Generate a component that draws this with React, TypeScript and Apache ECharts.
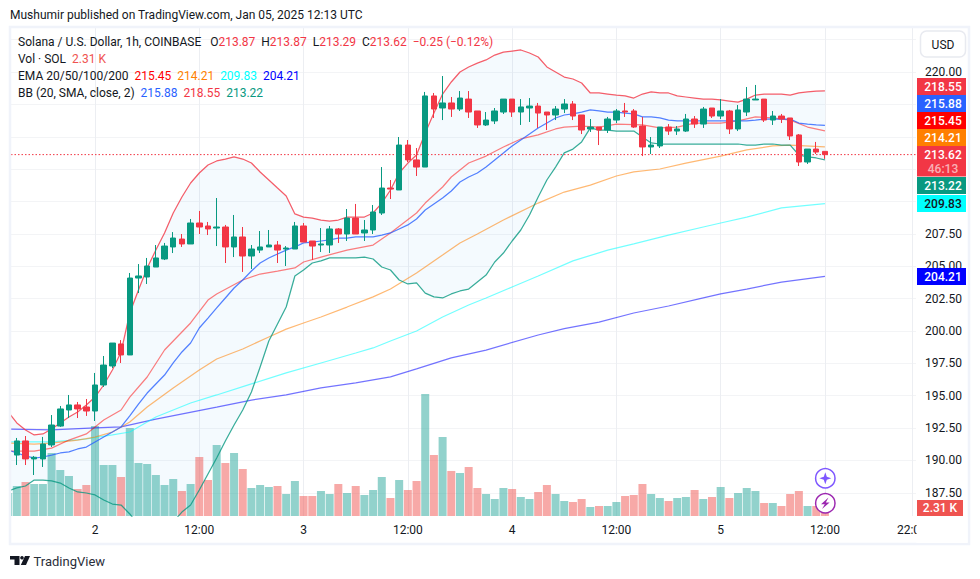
import React, { useEffect, useRef } from "react";
import * as echarts from "echarts";

const FONT = "Roboto, 'Noto Sans', sans-serif";
const GREEN = "#089981";
const RED = "#F23645";
const INK = "#131722";

const firstHour = 14;
// [open, close, low, high], one row per hour from Jan 1 14:00
const ohlc = [
  [189.8, 190.6, 189.7, 190.7],
  [190.42, 191.51, 189.65, 191.74], [191.51, 190.12, 189.65, 191.89], [190.12, 190.25, 188.88, 190.35], [190.12, 191.27, 189.5, 191.82],
  [191.2, 192.74, 191.04, 193.51], [192.66, 193.98, 192.59, 194.21], [193.9, 194.29, 193.28, 195.06], [194.29, 193.98, 193.28, 194.52],
  [194.13, 193.82, 193.44, 194.75], [193.82, 195.83, 193.05, 196.76], [195.83, 197.37, 195.68, 198.07], [197.3, 199.07, 197.14, 199.07],
  [199.0, 198.15, 197.53, 199.3], [198.15, 204.09, 198.15, 204.48], [204.09, 204.25, 202.93, 205.17], [204.17, 205.02, 203.63, 205.64],
  [204.94, 205.64, 204.94, 206.64], [205.56, 206.56, 205.48, 206.8], [206.49, 207.18, 206.02, 207.64], [207.1, 206.72, 206.49, 207.49],
  [206.72, 208.34, 206.72, 208.65], [208.34, 208.03, 207.49, 209.27], [208.11, 207.88, 207.41, 208.42], [207.95, 208.03, 206.56, 210.27],
  [208.03, 206.49, 205.25, 208.19], [206.49, 207.26, 205.71, 208.96], [207.26, 205.79, 204.56, 208.03], [205.79, 206.33, 204.79, 206.64],
  [206.25, 206.49, 206.02, 207.72], [206.49, 206.64, 206.49, 207.8], [206.64, 206.25, 205.25, 206.95], [206.33, 206.41, 205.02, 206.56],
  [206.33, 208.11, 206.33, 208.42], [208.11, 206.87, 206.87, 208.34], [206.95, 206.56, 205.48, 206.95], [206.64, 206.72, 206.1, 207.95],
  [206.64, 207.88, 206.02, 208.11], [207.88, 207.49, 206.8, 207.95], [207.49, 208.72, 206.95, 209.42], [208.72, 207.49, 207.49, 209.81],
  [207.57, 207.8, 206.95, 208.57], [207.8, 209.19, 207.49, 209.73], [209.11, 211.04, 208.96, 212.66], [211.04, 210.96, 210.19, 211.66],
  [210.89, 214.36, 210.89, 214.98], [214.36, 213.21, 213.05, 214.75], [213.21, 212.66, 211.97, 214.13], [212.66, 218.15, 212.66, 218.46],
  [218.15, 217.14, 216.45, 218.38], [217.22, 217.61, 216.29, 219.69], [217.61, 217.14, 216.53, 218.07], [217.14, 217.99, 216.99, 218.53],
  [217.91, 216.91, 216.45, 218.53], [216.99, 215.91, 215.68, 216.99], [215.91, 216.29, 215.83, 216.91], [216.22, 216.99, 215.98, 217.22],
  [216.91, 217.91, 216.76, 217.91], [217.91, 216.91, 216.53, 217.91], [216.91, 217.3, 215.91, 217.91], [217.22, 217.37, 216.14, 217.99],
  [217.37, 216.83, 215.68, 217.61], [216.91, 216.68, 215.52, 216.91], [216.68, 217.14, 216.29, 217.37], [217.14, 217.53, 216.83, 217.91],
  [217.53, 216.6, 216.29, 217.76], [216.68, 215.52, 215.21, 216.68], [215.6, 215.75, 215.37, 216.37], [215.75, 215.52, 214.36, 215.75],
  [215.52, 216.37, 215.29, 216.53], [216.29, 216.99, 216.06, 217.14], [216.99, 216.91, 216.53, 217.61], [216.99, 215.75, 215.68, 217.14],
  [215.83, 214.21, 213.51, 216.53], [214.21, 214.36, 213.67, 214.98], [214.29, 215.75, 214.13, 215.75], [215.75, 215.44, 215.14, 215.98],
  [215.44, 215.6, 215.14, 215.83], [215.44, 216.37, 215.37, 216.76], [216.37, 215.98, 215.68, 216.6], [215.98, 217.14, 215.68, 217.3],
  [217.22, 216.6, 216.45, 217.22], [216.6, 216.99, 216.37, 217.91], [216.99, 215.6, 215.21, 217.07], [215.6, 217.07, 215.44, 217.45],
  [216.91, 217.91, 216.6, 218.84], [217.84, 217.91, 217.84, 219.0], [217.91, 216.29, 216.14, 217.91], [216.29, 216.6, 215.91, 216.99],
  [216.6, 216.37, 216.06, 216.76], [216.45, 215.06, 214.75, 216.45], [215.14, 213.05, 212.74, 215.21], [213.05, 214.05, 212.9, 214.05],
  [214.05, 213.82, 213.67, 214.6], [213.87, 213.62, 213.29, 213.87],
];

const volumeK = [
  5.3, 6.93, 7.85, 7.39, 7.39, 14.55, 10.63, 9.24, 6.24, 7.16, 20.79, 11.78, 11.78, 9.01, 20.33, 12.24, 12.01, 9.47, 7.16, 8.55, 5.78, 7.39, 13.63, 8.32, 16.4,
  12.24, 14.55, 10.86, 6.47, 7.16, 6.7, 6.93, 5.08, 8.09, 4.62, 4.62, 5.78, 5.08, 7.39, 5.31, 6.93, 4.85, 6.01, 9.01, 4.16, 8.32, 6.01, 8.09, 28.18, 14.09, 18.25,
  10.4, 9.93, 11.32, 6.47, 5.08, 3.93, 6.47, 6.24, 4.39, 3.93, 5.54, 7.16, 5.08, 3.47, 3.23, 3.93, 2.08, 2.31, 2.31, 3.23, 4.62, 4.85, 7.39, 5.08, 4.16, 3.47,
  4.16, 4.39, 6.01, 3.93, 4.39, 6.7, 4.16, 5.31, 6.47, 5.78, 3.0, 3.0, 2.31, 5.08, 5.78, 2.31, 2.31, 2.31,
];

const bbUpper = [
  193.75, 192.9, 192.36, 191.97, 192.05, 192.43, 192.9, 193.36, 193.75, 194.29,
  194.9, 195.83, 196.99, 198.38, 201.39, 203.17, 204.87, 206.25, 207.57, 209.11,
  210.35, 211.43, 212.2, 212.82, 213.13, 213.28, 213.44, 213.28, 212.97, 212.28,
  211.66, 211.04, 210.43, 209.04, 208.8, 208.72, 208.57, 208.49, 208.57, 208.8,
  208.8, 208.8, 209.11, 209.88, 210.89, 212.2, 212.97, 213.59, 215.29, 216.83,
  218.3, 219.23, 220, 220.39, 220.69, 220.93, 221.31, 221.54, 221.62, 221.7,
  221.47, 221.16, 220.39, 220, 219.61, 219.46, 219.15, 218.38, 218.38, 218.3,
  218.22, 218.15, 217.99, 218.3, 218.46, 218.38, 218.38, 218.15, 218.07, 217.99,
  217.91, 217.91, 217.84, 217.76, 217.68, 217.91, 218.22, 218.3, 218.3, 218.3,
  218.22, 218.38, 218.46, 218.53, 218.55,
];
const bbBasis = [
  190.81, 190.58, 190.35, 190.19, 190.27, 190.42, 190.58, 190.66, 190.89, 191.04,
  191.43, 191.82, 192.2, 192.59, 193.44, 194.36, 195.21, 195.91, 196.6, 197.53,
  198.38, 199.07, 200.23, 201, 201.78, 202.55, 203.32, 203.94, 204.63, 205.25,
  205.64, 205.95, 206.25, 206.49, 206.8, 206.87, 206.95, 207.03, 207.18, 207.18,
  207.26, 207.26, 207.26, 207.41, 207.57, 207.88, 208.19, 208.65, 209.34, 209.81,
  210.27, 210.81, 211.51, 211.89, 212.2, 212.66, 213.21, 213.75, 214.29, 214.75,
  215.21, 215.68, 216.06, 216.45, 216.68, 216.76, 216.91, 217.07, 216.99, 216.91,
  216.91, 216.83, 216.76, 216.53, 216.53, 216.45, 216.29, 216.22, 216.22, 216.22,
  216.22, 216.22, 216.22, 216.22, 216.22, 216.22, 216.29, 216.37, 216.37, 216.37,
  216.37, 216.06, 215.98, 215.91, 215.88,
];
const bbLower = [
  187.64, 187.88, 188.03, 188.49, 188.49, 188.42, 188.26, 187.88, 187.57, 187.49,
  187.34, 186.95, 186.64, 186.56, 185.87, 185.02, 184.48, 184.32, 184.63, 185.25,
  186.02, 186.56, 187.72, 188.96, 190.19, 191.51, 192.74, 193.9, 195.29, 197.22,
  199.23, 200.54, 201.85, 204.25, 204.71, 205.25, 205.41, 205.64, 205.64, 205.64,
  205.64, 205.71, 205.56, 204.94, 204.71, 203.94, 203.63, 203.71, 202.93, 202.63,
  202.55, 202.86, 203.09, 203.24, 203.78, 204.32, 205.33, 206.02, 206.95, 207.8,
  208.96, 210.35, 211.66, 212.66, 213.75, 214.05, 214.6, 215.68, 215.52, 215.52,
  215.44, 215.44, 215.44, 214.98, 214.52, 214.44, 214.44, 214.44, 214.44, 214.44,
  214.44, 214.44, 214.44, 214.44, 214.44, 214.36, 214.36, 214.44, 214.44, 214.36,
  214.36, 213.59, 213.44, 213.36, 213.22,
];

// EMA readings as [hour, price]
const ema20 = [[14, 190.73], [17, 190.73], [19, 190.96], [21, 191.58], [23, 192.05], [25, 193.13], [27, 193.9], [28, 194.9], [30, 196.45], [32, 198.53], [35, 200.62], [37, 202.39], [38, 202.86], [41, 203.94], [43, 204.4], [45, 204.63], [47, 204.87], [48, 205.33], [50, 205.71], [53, 206.25], [56, 206.64], [58, 207.57], [61, 209.11], [62, 209.88], [64, 211.12], [65, 211.89], [67, 212.97], [69, 213.51], [71, 214.21], [73, 214.83], [75, 215.14], [77, 215.6], [78, 215.75], [80, 215.83], [82, 215.75], [84, 215.98], [87, 215.91], [89, 215.68], [91, 215.75], [93, 216.06], [96, 216.06], [98, 216.22], [100, 216.53], [102, 216.45], [104, 216.29], [106, 215.75], [108, 215.45]];
const ema50 = [[14, 191.35], [17, 191.27], [19, 191.35], [22, 191.58], [24, 191.81], [26, 192.2], [28, 192.97], [30, 194.13], [33, 195.6], [36, 196.99], [38, 197.84], [41, 198.61], [44, 199.54], [46, 200.15], [48, 200.62], [50, 201.08], [53, 201.85], [56, 202.63], [58, 203.24], [61, 204.48], [64, 205.87], [66, 206.8], [68, 207.49], [71, 208.57], [75, 209.88], [78, 210.73], [81, 211.27], [84, 211.97], [86, 212.28], [89, 212.51], [92, 212.97], [96, 213.51], [99, 213.98], [102, 214.29], [104, 214.36], [108, 214.21]];
const ema100 = [[14, 191.43], [19, 191.43], [23, 191.66], [26, 191.97], [28, 192.2], [31, 193.36], [35, 194.44], [38, 195.06], [42, 195.91], [46, 196.76], [50, 197.53], [54, 198.3], [56, 198.69], [58, 199.23], [61, 200.0], [64, 201.08], [67, 202.01], [69, 202.55], [72, 203.4], [75, 204.25], [79, 205.41], [83, 206.25], [86, 206.72], [90, 207.41], [94, 208.03], [96, 208.34], [99, 208.8], [103, 209.5], [108, 209.83]];
const ema200 = [[14, 192.43], [19, 192.36], [24, 192.51], [27, 192.59], [31, 193.2], [38, 194.13], [42, 194.67], [46, 195.06], [50, 195.6], [54, 195.99], [58, 196.45], [61, 197.07], [65, 197.92], [69, 198.53], [75, 199.69], [78, 200.18], [82, 200.69], [86, 201.39], [90, 201.93], [94, 202.55], [96, 202.86], [99, 203.24], [103, 203.78], [108, 204.21]];

const lastClose = 213.62;
const gridPrices = [187.5, 190, 192.5, 195, 197.5, 200, 202.5, 205, 207.5, 210, 212.5, 215, 217.5, 220, 222.5];
const labelPrices = [187.5, 190, 192.5, 195, 197.5, 200, 202.5, 205, 207.5, 220];
const timeHours = [24, 36, 48, 60, 72, 84, 96, 108, 118];
const timeLabels = ["2", "12:00", "3", "12:00", "4", "12:00", "5", "12:00", "22:00"];

const priceTags = [
  { text: "218.55", fill: RED, ink: "#fff", top: 78 },
  { text: "215.88", fill: "#2962FF", ink: "#fff", top: 95 },
  { text: "215.45", fill: "#FF0000", ink: "#fff", top: 112 },
  { text: "214.21", fill: "#FF7F00", ink: "#fff", top: 129 },
  { text: "213.22", fill: GREEN, ink: "#fff", top: 177 },
  { text: "209.83", fill: "#00FFFF", ink: INK, top: 195 },
  { text: "204.21", fill: "#0000FF", ink: "#fff", top: 268 },
];

const hourOf = (i: number) => firstHour + i;
const perHour = (values: number[]) => values.map((v, i) => [hourOf(i), v]);

function lineSeries(name: string, data: number[][], color: string, width = 1.25) {
  return {
    name, type: "line", data, showSymbol: false, symbol: "none", silent: true, z: 3,
    lineStyle: { color, width },
  };
}

function legendText(y: number, text: string, rich: any) {
  return {
    type: "text", z: 100, x: 18, y,
    style: { text, rich, font: `12px ${FONT}`, fill: INK, verticalAlign: "middle" },
  };
}

const tagRect = (top: number, h: number, fill: string, w = 49) => ({
  type: "rect", z: 100, shape: { x: 917, y: top, width: w, height: h }, style: { fill },
});
const tagText = (cy: number, text: string, fill: string, weight = "500", cx = 943) => ({
  type: "text", z: 101, x: cx, y: cy,
  style: { text, fill, font: `${weight} 12px ${FONT}`, align: "center", verticalAlign: "middle" },
});

export default function App() {
  const ref = useRef<HTMLDivElement>(null);
  useEffect(() => {
    document.body.style.margin = "0";
    const chart = echarts.init(ref.current!, null, { renderer: "svg" });

    const n = (c: string) => ({ fill: c, font: `12px ${FONT}` });
    const graphics: any[] = [
      { type: "rect", z: 100, shape: { x: 0, y: 28, width: 9, height: 490 }, style: { fill: "#fff" } },
      { type: "rect", z: 100, shape: { x: 10, y: 27, width: 959, height: 517 }, style: { fill: "none", stroke: "#f0f3fa", lineWidth: 2.5 } },
      { type: "rect", z: 100, shape: { x: 916.5, y: 517, width: 51, height: 26 }, style: { fill: "#fff" } },
      {
        type: "text", z: 100, x: 10, y: 15,
        style: { text: "Mushumir published on TradingView.com, Jan 05, 2025 12:13 UTC", font: `12px ${FONT}`, fill: INK, verticalAlign: "middle" },
      },
      legendText(41.5, "{a|Solana / U.S. Dollar, 1h, COINBASE}   {a|O}{r|213.87}  {a|H}{r|213.87}  {a|L}{r|213.29}  {a|C}{r|213.62}  {r|−0.25 (−0.12%)}", { a: n(INK), r: n(RED) }),
      legendText(59, "{a|Vol · SOL}  {v|2.31 K}", { a: n(INK), v: n("#EF5350") }),
      legendText(76, "{a|EMA 20/50/100/200}  {e|215.45}  {f|214.21}  {g|209.83}  {h|204.21}", { a: n(INK), e: n("#FF0000"), f: n("#FF7F00"), g: n("#00FFFF"), h: n("#0000FF") }),
      legendText(93, "{a|BB (20, SMA, close, 2)}  {b|215.88}  {c|218.55}  {d|213.22}", { a: n(INK), b: n("#2962FF"), c: n(RED), d: n(GREEN) }),
      // USD button
      { type: "rect", z: 100, shape: { x: 920.5, y: 31, width: 45, height: 26, r: 6 }, style: { fill: "#fff", stroke: "#e8eaf0", lineWidth: 1.5 } },
      { type: "text", z: 101, x: 943, y: 44.5, style: { text: "USD", fill: INK, font: `12px ${FONT}`, align: "center", verticalAlign: "middle" } },
      // price tags
      ...priceTags.flatMap((t) => [tagRect(t.top, 17, t.fill), tagText(t.top + 8.5, t.text, t.ink)]),
      tagRect(146, 30.5, RED),
      tagText(154.5, "213.62", "#fff"),
      tagText(169, "46:13", "rgba(255,255,255,0.62)"),
      tagRect(500, 16, "#EF5350", 46),
      tagText(508, "2.31 K", "#fff", "500", 940),
      // event icons
      { type: "circle", z: 100, shape: { cx: 825.3, cy: 478.3, r: 9.7 }, style: { fill: "#fff", stroke: "#7E57FF", lineWidth: 1.5 } },
      { type: "polygon", z: 101, shape: { points: [[825.3, 472.3], [826.8, 476.8], [831.3, 478.3], [826.8, 479.8], [825.3, 484.3], [823.8, 479.8], [819.3, 478.3], [823.8, 476.8]] }, style: { fill: "#7E57FF" } },
      { type: "circle", z: 100, shape: { cx: 825.3, cy: 503.3, r: 9.7 }, style: { fill: "#fff", stroke: "#9C27B0", lineWidth: 1.5 } },
      { type: "polygon", z: 101, shape: { points: [[828.5, 497.5], [821, 504.2], [824.8, 504.2], [822, 509], [829.6, 502.4], [825.8, 502.4]] }, style: { fill: "#9C27B0" } },
      // logo
      { type: "polygon", z: 100, shape: { points: [[10, 556], [19.5, 556], [19.5, 565], [14.5, 565], [14.5, 559.5], [10, 559.5]] }, style: { fill: INK } },
      { type: "circle", z: 100, shape: { cx: 22, cy: 557.8, r: 1.8 }, style: { fill: INK } },
      { type: "polygon", z: 100, shape: { points: [[25, 556], [30, 556], [26, 565], [20.8, 565]] }, style: { fill: INK } },
      { type: "text", z: 100, x: 33.5, y: 561, style: { text: "TradingView", fill: "#2a2e39", font: `13px ${FONT}`, verticalAlign: "middle" } },
    ];

    const option: any = {
      animation: false,
      backgroundColor: "#fff",
      textStyle: { fontFamily: FONT },
      grid: { left: 11, top: 28, width: 905, height: 488, containLabel: false },
      xAxis: {
        type: "value", min: 14.33, max: 118.48,
        axisLine: { show: false },
        axisTick: { show: false, customValues: timeHours },
        splitLine: { show: true, lineStyle: { color: "#eceef2", width: 1 } },
        axisLabel: {
          show: true, customValues: timeHours, margin: 8, fontSize: 12, color: INK, fontFamily: FONT,
          hideOverlap: false, showMinLabel: true, showMaxLabel: true,
          formatter: (v: number) => timeLabels[timeHours.indexOf(v)] ?? "",
        },
      },
      yAxis: [
        {
          type: "value", position: "right", min: 185.714, max: 223.398,
          axisLine: { show: false },
          axisTick: { show: false, customValues: gridPrices },
          splitLine: { show: true, lineStyle: { color: "#f3f4f6", width: 1 } },
          axisLabel: {
            customValues: labelPrices, inside: false, margin: 9, fontSize: 12, color: INK, fontFamily: FONT,
            formatter: (v: number) => v.toFixed(2),
          },
        },
        { type: "value", min: 0, max: 112.7, show: false, splitLine: { show: false } },
      ],
      graphic: graphics,
      series: [
        {
          name: "BB fill", type: "custom", silent: true, clip: true, z: 1,
          data: [[firstHour, bbUpper[0]]],
          renderItem: (_p: any, api: any) => {
            const top = perHour(bbUpper).map((d) => api.coord(d));
            const bottom = perHour(bbLower).map((d) => api.coord(d)).reverse();
            return { type: "polygon", shape: { points: [...top, ...bottom] }, style: { fill: "rgba(33,150,243,0.05)" } };
          },
        },
        {
          name: "Volume", type: "bar", yAxisIndex: 1, barWidth: 8, silent: true, z: 2,
          data: volumeK.map((v, i) => ({
            value: [hourOf(i), v],
            itemStyle: { color: ohlc[i][1] >= ohlc[i][0] ? "rgba(38,166,154,0.5)" : "rgba(239,83,80,0.5)" },
          })),
        },
        lineSeries("EMA 200", ema200, "rgba(0,0,255,0.55)"),
        lineSeries("EMA 100", ema100, "rgba(0,255,255,0.55)"),
        lineSeries("EMA 50", ema50, "rgba(255,127,0,0.55)"),
        lineSeries("EMA 20", ema20, "rgba(255,0,0,0.5)"),
        lineSeries("BB basis", perHour(bbBasis), "rgba(41,98,255,0.8)"),
        lineSeries("BB upper", perHour(bbUpper), "rgba(242,54,69,0.8)"),
        lineSeries("BB lower", perHour(bbLower), "rgba(8,153,129,0.8)"),
        {
          name: "Last", type: "line", silent: true, symbol: "none", z: 4,
          data: [[14.33, lastClose], [118.48, lastClose]],
          lineStyle: { color: RED, width: 1, type: [1.5, 2] },
        },
        {
          name: "SOLUSD", type: "candlestick", barWidth: 6, silent: true, z: 5,
          data: ohlc.map((r, i) => [hourOf(i), ...r]),
          itemStyle: { color: GREEN, color0: RED, borderColor: GREEN, borderColor0: RED, borderWidth: 1 },
        },
      ],
    };
    chart.setOption(option);
    return () => chart.dispose();
  }, []);
  return <div ref={ref} style={{ position: "absolute", left: 0, top: 0, width: 980, height: 579 }} />;
}
